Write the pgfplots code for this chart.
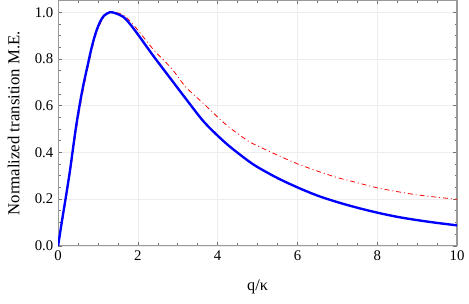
\documentclass[border=0pt]{standalone}
\usepackage{fontspec}
\setmainfont{Liberation Serif}
\usepackage{pgfplots}
\pgfplotsset{compat=1.18}
\begin{document}
\fontsize{14}{16}\selectfont
\begin{tikzpicture}
\begin{axis}[
  scale only axis,
  width=405pt, height=249pt,
  xmin=0, xmax=10, ymin=0, ymax=1.05,
  xtick={0,2,4,6,8,10},
  ytick={0,0.2,0.4,0.6,0.8,1.0},
  minor x tick num=3, minor y tick num=3,
  yticklabel style={/pgf/number format/.cd, fixed, fixed zerofill, precision=1},
  /pgf/number format/assume math mode=true,
  tick label style={font=\fontsize{15}{17}\selectfont, black},
  axis line style={black!40, line width=1.1pt},
  tick style={black!55, line width=0.6pt},
  major tick length=4pt, minor tick length=2.5pt,
  tick align=inside,
  grid=major,
  major grid style={black!7, line width=0.5pt},
  xlabel={q/κ},
  ylabel={Normalized transition M.E.},
  every axis x label/.style={at={(axis description cs:0.5,0)}, anchor=north, yshift=-30pt, font=\fontsize{16.5}{18}\selectfont},
  every axis y label/.style={at={(axis description cs:0,0.5)}, xshift=-39pt, rotate=90, anchor=south, inner sep=0pt, font=\fontsize{17}{19}\selectfont},
]
\addplot[red, line width=0.8pt, dash pattern=on 5pt off 3pt on 1pt off 3pt, smooth] coordinates {
(0,0) (0.1,0.1) (0.2,0.2) (0.3,0.31) (0.45,0.49) (0.6,0.64) (0.75,0.765) (0.9,0.875) (1.0,0.93) (1.15,0.98) (1.3,1.0) (1.5,0.997) (1.7,0.98) (2.0,0.923) (2.4,0.838) (2.84,0.76) (3.2,0.68) (3.67,0.605) (4.2,0.52) (4.75,0.45) (5.0,0.428) (5.5,0.388) (6.0,0.351) (6.5,0.32) (7.0,0.292) (7.5,0.27) (8.0,0.248) (8.5,0.232) (9.0,0.218) (9.5,0.208) (10,0.199)
};
\addplot[blue, line width=2.4pt, smooth] coordinates {
(0,0) (0.1,0.11) (0.2,0.215) (0.3,0.325) (0.45,0.51) (0.6,0.66) (0.75,0.78) (0.85,0.855) (0.95,0.915) (1.05,0.958) (1.15,0.985) (1.3,1.0) (1.45,0.995) (1.64,0.979) (1.8,0.95) (2.0,0.905) (2.4,0.81) (2.84,0.711) (3.2,0.63) (3.67,0.528) (4.2,0.44) (4.7,0.372) (5.0,0.337) (5.5,0.29) (6.0,0.25) (6.5,0.215) (7.0,0.187) (7.5,0.163) (8.0,0.142) (8.5,0.124) (9.0,0.11) (9.5,0.098) (10,0.0875)
};
\end{axis}
\path ([xshift=-59pt,yshift=-59pt]current axis.south west);
\end{tikzpicture}
\end{document}
